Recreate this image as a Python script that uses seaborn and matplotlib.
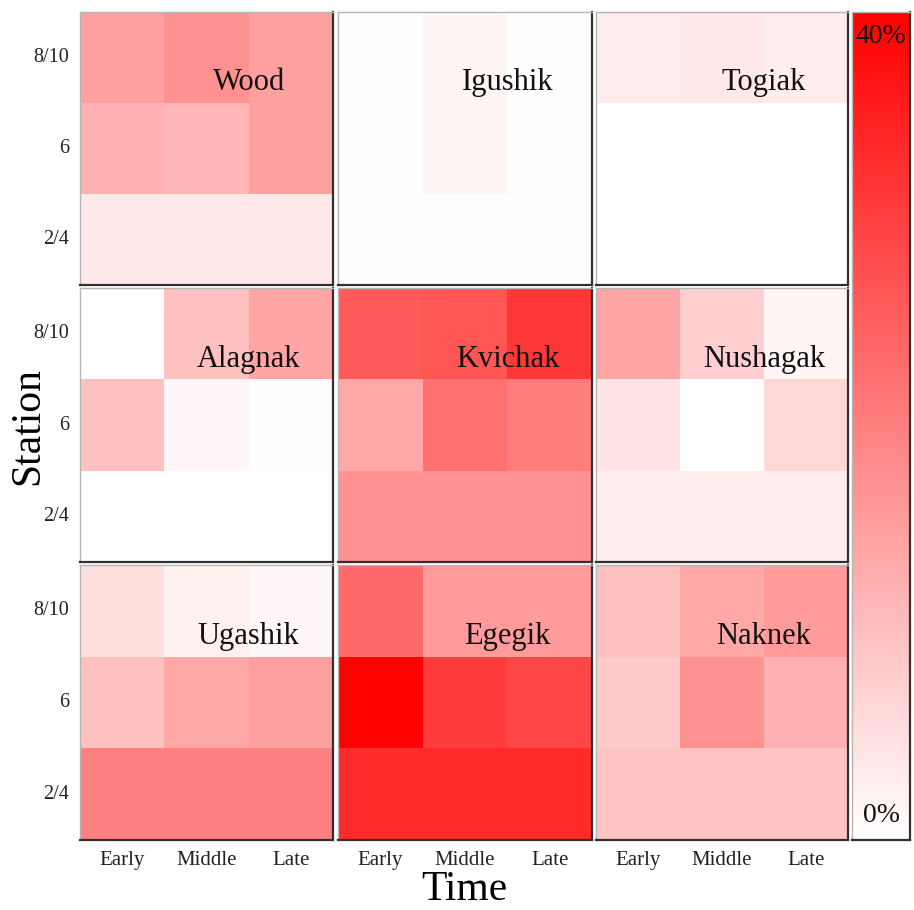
import numpy as np
import pandas as pd
import matplotlib
matplotlib.use("Agg")
import matplotlib.pyplot as plt
import seaborn as sns
from matplotlib.colors import LinearSegmentedColormap

# categorias
times = ["Early", "Middle", "Late"]
stations = ["8/10", "6", "2/4"]   # de cima para baixo

# percentuais (linhas = stations, colunas = times)
wood = [[14.9, 17.3, 14.9], [12.4, 11.5, 14.9], [3.6, 3.6, 3.6]]
igushik = [[0.2, 1.6, 0.2], [0.2, 1.6, 0.2], [0.2, 0.2, 0.2]]
togiak = [[3.0, 3.6, 3.0], [0.1, 0.1, 0.1], [0.1, 0.1, 0.1]]
alagnak = [[0.0, 9.9, 14.1], [9.9, 1.4, 0.2], [0.1, 0.1, 0.1]]
kvichak = [[25.9, 26.7, 31.4], [13.6, 22.4, 20.4], [17.3, 17.3, 17.3]]
nushagak = [[14.1, 7.8, 1.6], [4.2, 0.0, 6.3], [2.7, 2.7, 2.7]]
ugashik = [[5.2, 2.4, 1.4], [9.9, 13.6, 14.9], [19.9, 19.9, 19.9]]
egegik = [[23.5, 15.7, 15.7], [40.0, 30.6, 29.0], [33.4, 33.4, 33.4]]
naknek = [[9.9, 13.6, 15.7], [8.3, 17.3, 12.4], [9.4, 9.4, 9.4]]

rivers = ["Wood", "Igushik", "Togiak",
          "Alagnak", "Kvichak", "Nushagak",
          "Ugashik", "Egegik", "Naknek"]
river_values = [wood, igushik, togiak, alagnak, kvichak, nushagak, ugashik, egegik, naknek]

serif = ["Liberation Serif", "DejaVu Serif"]
plt.rcParams["font.family"] = serif

cmap = LinearSegmentedColormap.from_list("branco_vermelho", ["#ffffff", "#ff0000"])

W, H = 914, 910
fig = plt.figure(figsize=(W / 100, H / 100), dpi=100)

def px_axes(x0, y0, x1, y1):
    # posicao em pixels (origem no canto superior esquerdo)
    return fig.add_axes([x0 / W, 1 - y1 / H, (x1 - x0) / W, (y1 - y0) / H])

cols = [(80, 333), (338, 592), (596, 848)]
rows = [(12, 285), (288, 562), (565, 840)]

def frame(ax):
    for side in ["left", "top"]:
        ax.spines[side].set_visible(True)
        ax.spines[side].set_color("#b5b5b5")
        ax.spines[side].set_linewidth(1)
    for side in ["right", "bottom"]:
        ax.spines[side].set_visible(True)
        ax.spines[side].set_color("#303030")
        ax.spines[side].set_linewidth(1.6)

for k, (nome, vals) in enumerate(zip(rivers, river_values)):
    r, c = divmod(k, 3)
    ax = px_axes(cols[c][0], rows[r][0], cols[c][1], rows[r][1])
    df = pd.DataFrame(vals, index=stations, columns=times)
    sns.heatmap(df, ax=ax, cmap=cmap, vmin=0, vmax=40, cbar=False, square=False)
    frame(ax)
    ax.text(2.0, 0.78, nome, ha="center", va="center", fontsize=22, color="#111111")
    ax.tick_params(length=0, pad=8)
    if c == 0:
        ax.set_yticklabels(stations, rotation=0, fontsize=14.5, color="#222222")
    else:
        ax.set_yticks([])
    if r == 2:
        ax.set_xticklabels(times, rotation=0, fontsize=15, color="#222222")
    else:
        ax.set_xticks([])
    ax.set_xlabel("")
    ax.set_ylabel("")

# barra de cores
cax = px_axes(852, 12, 910, 840)
sm = plt.cm.ScalarMappable(cmap=cmap, norm=plt.Normalize(0, 40))
cb = fig.colorbar(sm, cax=cax)
cb.set_ticks([])
cb.outline.set_visible(False)
frame(cax)
cax.text(0.5, 0.97, "40%", transform=cax.transAxes, ha="center", va="center", fontsize=20, color="#111111")
cax.text(0.5, 0.03, "0%", transform=cax.transAxes, ha="center", va="center", fontsize=20, color="#111111")

fig.text(28 / W, 1 - 426 / H, "Station", rotation=90, ha="center", va="center", fontsize=30)
fig.text(464 / W, 1 - 890 / H, "Time", ha="center", va="center", fontsize=30)

fig.savefig("out.png", dpi=100, facecolor="white")
